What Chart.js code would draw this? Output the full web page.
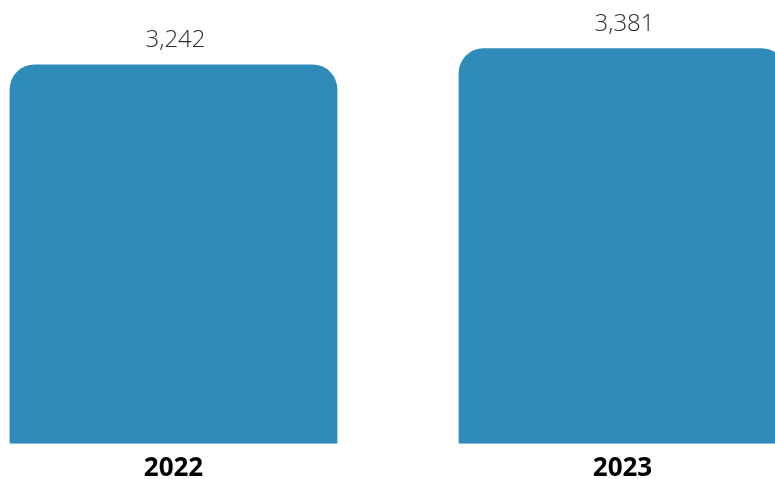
<!DOCTYPE html>
<html>
<head>
<meta charset="utf-8">
<script src="https://cdn.jsdelivr.net/npm/chart.js@4/dist/chart.umd.min.js"></script>
<style>
  html, body { margin: 0; padding: 0; background: #ffffff; overflow: hidden; }
  body { width: 775px; height: 479px; position: relative; }
  #wrap { position: absolute; left: -51px; top: 0; width: 898px; height: 493px; }
</style>
</head>
<body>
<div id="wrap"><canvas id="c"></canvas></div>
<script>
const categories = ["2022", "2023"];
const values = [3242, 3381];
const barColor = "#2e8bba";

const valueLabels = {
  id: "valueLabels",
  afterDatasetsDraw(chart) {
    const ctx = chart.ctx;
    const meta = chart.getDatasetMeta(0);
    ctx.save();
    ctx.font = "300 24px 'Open Sans'";
    ctx.fillStyle = "#2b2b2b";
    ctx.textAlign = "center";
    ctx.textBaseline = "alphabetic";
    meta.data.forEach((bar, i) => {
      const v = chart.data.datasets[0].data[i];
      ctx.fillText(v.toLocaleString("en-US"), bar.x + 2, bar.y - 17);
    });
    ctx.restore();
  }
};

function draw() {
  new Chart(document.getElementById("c"), {
    type: "bar",
    data: {
      labels: categories,
      datasets: [{
        data: values,
        backgroundColor: barColor,
        borderRadius: 25,
        borderSkipped: "start",
        barPercentage: 0.73,
        categoryPercentage: 1.0
      }]
    },
    options: {
      responsive: true,
      maintainAspectRatio: false,
      animation: false,
      devicePixelRatio: 1,
      layout: { padding: 0 },
      plugins: { legend: { display: false }, tooltip: { enabled: false } },
      scales: {
        y: { display: false, min: 0, max: 3793 },
        x: {
          grid: { display: false, drawTicks: false },
          border: { display: false },
          ticks: {
            color: "#000000",
            padding: 9,
            font: { family: "'Open Sans'", size: 26, weight: "bold" }
          }
        }
      }
    },
    plugins: [valueLabels]
  });
}
Promise.all([
  document.fonts.load("300 24px 'Open Sans'"),
  document.fonts.load("bold 26px 'Open Sans'")
]).then(draw, draw);
</script>
</body>
</html>
